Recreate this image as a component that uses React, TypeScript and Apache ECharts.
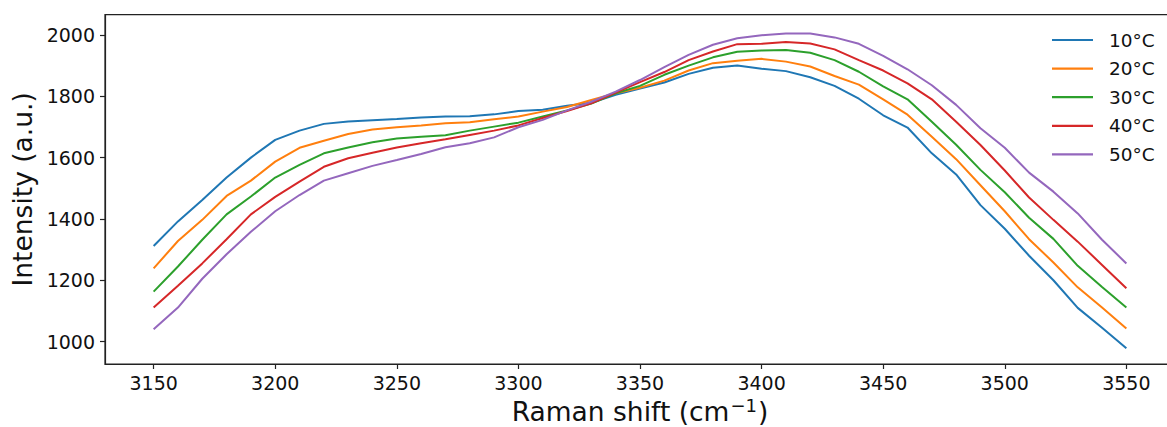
import React, { useEffect, useRef } from "react";
import * as echarts from "echarts";

const shifts: number[] = [];
for (let s = 3150; s <= 3550; s += 10) shifts.push(s);

const seriesNames = ["10°C", "20°C", "30°C", "40°C", "50°C"];
const colors = ["#1f77b4", "#ff7f0e", "#2ca02c", "#d62728", "#9467bd"];

const t10 = [1312, 1392, 1462, 1535, 1600, 1658, 1688, 1710, 1718, 1722, 1726, 1731, 1734, 1735, 1741, 1752, 1756, 1769, 1779, 1805, 1825, 1845, 1873, 1893, 1900, 1890, 1882, 1862, 1834, 1792, 1738, 1698, 1614, 1545, 1445, 1368, 1280, 1200, 1110, 1045, 978];
const t20 = [1239, 1328, 1397, 1475, 1525, 1587, 1632, 1655, 1677, 1692, 1699, 1705, 1712, 1715, 1725, 1734, 1750, 1765, 1788, 1810, 1828, 1851, 1884, 1908, 1916, 1922, 1913, 1897, 1866, 1838, 1790, 1740, 1668, 1595, 1510, 1425, 1334, 1258, 1177, 1111, 1043];
const t30 = [1163, 1245, 1332, 1415, 1473, 1535, 1576, 1614, 1633, 1650, 1662, 1668, 1673, 1688, 1701, 1714, 1734, 1754, 1776, 1810, 1834, 1870, 1900, 1927, 1945, 1949, 1951, 1942, 1918, 1880, 1832, 1790, 1717, 1642, 1560, 1487, 1404, 1335, 1247, 1178, 1111];
const t40 = [1111, 1182, 1255, 1334, 1415, 1472, 1522, 1570, 1598, 1616, 1633, 1647, 1660, 1674, 1688, 1705, 1729, 1752, 1777, 1812, 1846, 1879, 1918, 1946, 1970, 1971, 1977, 1972, 1953, 1918, 1884, 1842, 1790, 1717, 1641, 1558, 1470, 1397, 1326, 1250, 1174];
const t50 = [1040, 1111, 1205, 1285, 1358, 1425, 1478, 1525, 1549, 1573, 1592, 1612, 1634, 1647, 1666, 1699, 1723, 1754, 1782, 1815, 1853, 1895, 1935, 1968, 1989, 1999, 2005, 2005, 1992, 1971, 1932, 1888, 1836, 1772, 1696, 1632, 1551, 1489, 1418, 1332, 1255];

const xTicks = [3150, 3200, 3250, 3300, 3350, 3400, 3450, 3500, 3550];
const yTicks = [1000, 1200, 1400, 1600, 1800, 2000];

const allSeries = [t10, t20, t30, t40, t50];

export default function App() {
  const ref = useRef<HTMLDivElement>(null);
  useEffect(() => {
    if (!ref.current) return;
    const chart = echarts.init(ref.current, null, { renderer: "svg" });
    const font = "DejaVu Sans";
    chart.setOption({
      animation: false,
      backgroundColor: "#ffffff",
      textStyle: { fontFamily: font },
      grid: {
        left: 105,
        right: -8,
        top: 14.7,
        bottom: 63,
        containLabel: false,
        outerBoundsMode: "none",
        show: true,
        borderColor: "#222",
        borderWidth: 1.2,
        backgroundColor: "transparent",
      },
      legend: {
        orient: "vertical",
        left: 1047,
        top: 25,
        icon: "rect",
        itemWidth: 41,
        itemHeight: 2.2,
        itemGap: 8.6,
        textStyle: {
          fontFamily: font,
          fontSize: 18.5,
          color: "#111",
          lineHeight: 20,
          padding: [0, 0, 0, 11],
        },
        data: seriesNames,
      },
      xAxis: {
        type: "value",
        min: 3130,
        max: 3570,
        name: "Raman shift (cm{sup|−1})",
        nameLocation: "middle",
        nameGap: 29,
        nameTextStyle: {
          fontFamily: font,
          fontSize: 26.5,
          lineHeight: 30,
          color: "#111",
          rich: {
            sup: {
              fontFamily: font,
              fontSize: 18,
              lineHeight: 17,
              color: "#111",
              verticalAlign: "top",
              padding: [0, 1, 0, 1],
            },
          },
        },
        axisLine: { show: true, lineStyle: { color: "#222", width: 1.2 } },
        axisTick: { show: true, length: 5, lineStyle: { color: "#222", width: 1.2 }, customValues: xTicks },
        axisLabel: {
          fontFamily: font,
          fontSize: 19,
          color: "#111",
          margin: 9,
          customValues: xTicks,
          formatter: (v: number) => String(v),
        },
        splitLine: { show: false },
      },
      yAxis: {
        type: "value",
        min: 927,
        max: 2066,
        name: "Intensity (a.u.)",
        nameLocation: "middle",
        nameGap: 58,
        nameTextStyle: { fontFamily: font, fontSize: 26.5, color: "#111" },
        axisLine: { show: true, lineStyle: { color: "#222", width: 1.2 } },
        axisTick: { show: true, length: 5, lineStyle: { color: "#222", width: 1.2 }, customValues: yTicks },
        axisLabel: {
          fontFamily: font,
          fontSize: 19,
          color: "#111",
          margin: 10,
          customValues: yTicks,
          formatter: (v: number) => String(v),
        },
        splitLine: { show: false },
      },
      series: allSeries.map((vals, i) => ({
        name: seriesNames[i],
        type: "line",
        data: shifts.map((s, j) => [s, vals[j]]),
        showSymbol: false,
        symbol: "none",
        lineStyle: { color: colors[i], width: 2 },
        itemStyle: { color: colors[i] },
      })),
    });
    return () => chart.dispose();
  }, []);
  return (
    <div
      ref={ref}
      style={{ position: "absolute", left: 0, top: 0, width: 1167, height: 427 }}
    />
  );
}
